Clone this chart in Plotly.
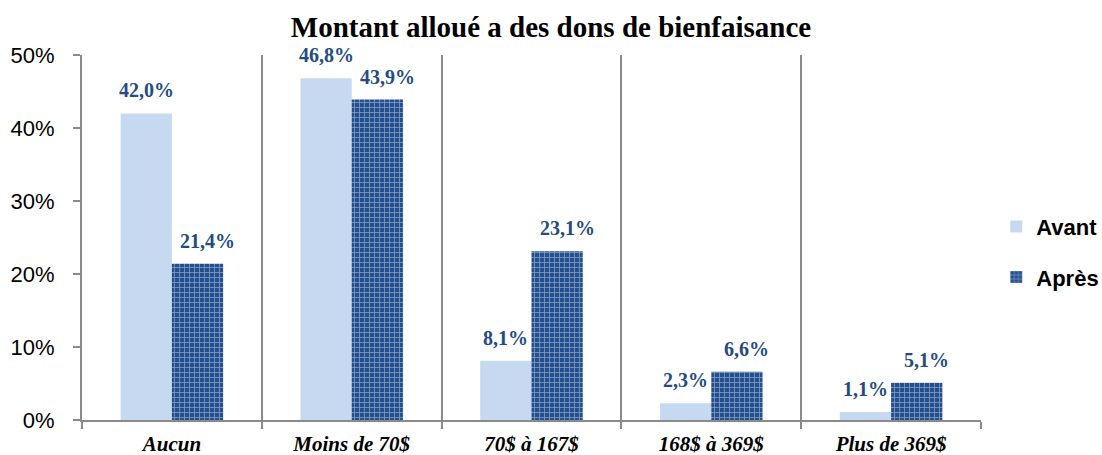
import plotly.graph_objects as go

categories = ["Aucun", "Moins de 70$", "70$ à 167$", "168$ à 369$", "Plus de 369$"]
avant = [42.0, 46.8, 8.1, 2.3, 1.1]
apres = [21.4, 43.9, 23.1, 6.6, 5.1]
y_ticks = [0, 10, 20, 30, 40, 50]
y_tick_labels = ["0%", "10%", "20%", "30%", "40%", "50%"]
series_names = ["Avant", "Après"]
title_text = "Montant alloué a des dons de bienfaisance"


def fmt(v):
    return f"{v:.1f}".replace(".", ",") + "%"


LIGHT = "#c6d9f0"
DARK = "#24508f"
LABEL = "#244b82"
GRID = "#8a8a8a"

W, H = 1102, 455
ML, MR, MT, MB = 82, 121, 55, 35
BARGAP = 0.43
plot_w = W - ML - MR
half_bar = plot_w / len(categories) * (1 - BARGAP) / 4

fig = go.Figure()
fig.add_bar(name="<b>" + series_names[0] + "</b>", x=categories, y=avant,
            marker=dict(color=LIGHT, line_width=0), legendgroup="a")
fig.add_bar(name="<b>" + series_names[1] + "</b>", x=categories, y=apres,
            marker=dict(color=DARK, line_width=0,
                        pattern=dict(shape="+", fgcolor="#dfe7f3", bgcolor=DARK,
                                     size=5, solidity=0.3)),
            legendgroup="b")

annotations = []
for c, v in zip(categories, avant):
    annotations.append(dict(x=c, y=v, xref="x", yref="y", text=fmt(v), showarrow=False,
                            xshift=-half_bar, yshift=23, yanchor="middle",
                            font=dict(family="Liberation Serif", size=20, color=LABEL, weight="bold")))
for c, v in zip(categories, apres):
    annotations.append(dict(x=c, y=v, xref="x", yref="y", text=fmt(v), showarrow=False,
                            xshift=half_bar + 10, yshift=23, yanchor="middle",
                            font=dict(family="Liberation Serif", size=20, color=LABEL, weight="bold")))

fig.update_layout(
    width=W, height=H,
    margin=dict(l=ML, r=MR, t=MT, b=MB, autoexpand=False),
    paper_bgcolor="white", plot_bgcolor="white",
    barmode="group", bargap=BARGAP, bargroupgap=0,
    title=dict(text=title_text, x=0.5, xref="container", xanchor="center",
               y=1 - 27 / H, yref="container", yanchor="middle",
               font=dict(family="Liberation Serif", size=29, color="black", weight="bold")),
    legend=dict(x=1.017, xanchor="left", y=0.46, yanchor="middle",
                font=dict(family="Liberation Sans", size=22, color="black"),
                tracegroupgap=19, bgcolor="rgba(0,0,0,0)"),
    annotations=annotations,
    xaxis=dict(type="category", tickson="boundaries", ticks="outside", ticklen=7,
               tickcolor=GRID, tickwidth=2, showgrid=True, gridcolor=GRID, gridwidth=2,
               showline=True, linecolor=GRID, linewidth=2, automargin=False,
               ticklabelstandoff=4,
               tickfont=dict(family="Liberation Serif", size=21, color="black",
                             weight="bold", style="italic")),
    yaxis=dict(range=[0, 50], tickvals=y_ticks, ticktext=y_tick_labels, ticks="outside",
               ticklen=7, tickcolor=GRID, tickwidth=2, showgrid=False, zeroline=False,
               showline=True, linecolor=GRID, linewidth=2, ticklabelstandoff=14,
               automargin=False,
               tickfont=dict(family="Liberation Sans", size=22, color="black")),
)

fig.write_html("out.html", config={"displayModeBar": False},
               post_script="document.body.style.margin='0';document.body.style.overflow='hidden';")
